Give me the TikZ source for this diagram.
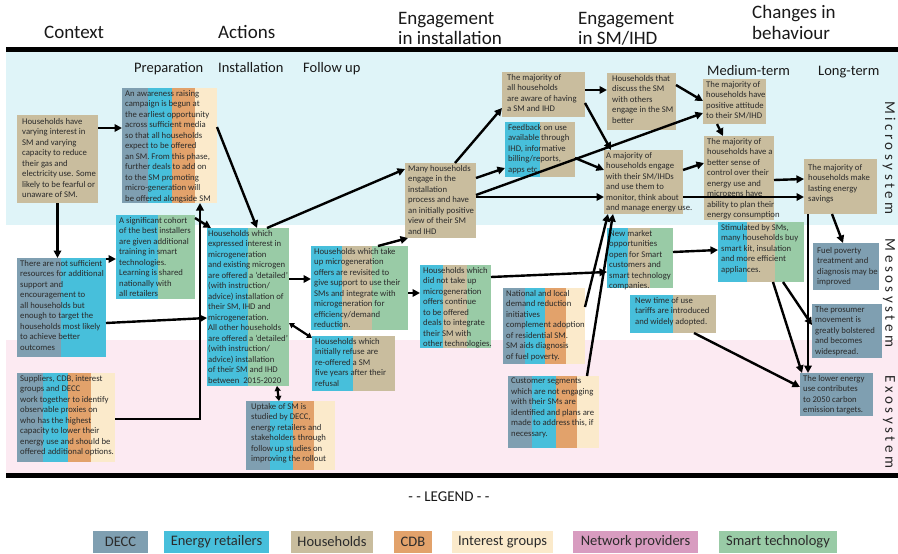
\documentclass[tikz,border=0pt]{standalone}
\usepackage{fontspec}
\setmainfont{Carlito}
\usetikzlibrary{arrows.meta}
\definecolor{cDECC}{HTML}{7F9FB1}
\definecolor{cER}{HTML}{47BFDB}
\definecolor{cHH}{HTML}{C9BD9E}
\definecolor{cCDB}{HTML}{E2A26B}
\definecolor{cIG}{HTML}{FBEACB}
\definecolor{cNP}{HTML}{D89CC0}
\definecolor{cST}{HTML}{99CBA6}
\definecolor{cMicro}{HTML}{DFF4F8}
\definecolor{cExo}{HTML}{FCEAF2}
\definecolor{cTxt}{HTML}{2B2B2B}
\newcommand\mkbox[6]{%
  \foreach \xa/\xb/\cc in {#6}{\fill[\cc] (\xa,#3) rectangle (\xb,#5);}%
  \node[inner sep=0pt,outer sep=0pt,minimum width={#4-#2},minimum height={#5-#3},anchor=north west] (#1) at (#2,#3) {};%
}
\newcommand\mktext[3][]{\node[btxt,anchor=north west,#1] (#2t) at ([xshift=3pt,yshift=-2pt]#2.north west) {#3};}
\newcommand\ls{\kern3.5pt}
\begin{document}
\begin{tikzpicture}[x=1pt,y=-1pt,
  arr/.style={line width=2.4pt,-{Triangle[length=7.5pt,width=7.5pt]},black},
  darr/.style={line width=2.2pt,{Triangle[length=5pt,width=6pt]}-{Triangle[length=5pt,width=6pt]},black},
  btxt/.style={inner sep=0pt,align=left,text=cTxt,font=\fontsize{8.7}{10.5}\selectfont},
  hdr/.style={font=\fontsize{19}{22}\selectfont,inner sep=0pt,anchor=base west,text=black!90},
  sub/.style={font=\fontsize{14.5}{17}\selectfont,inner sep=0pt,anchor=base west,text=black!90},
  leg/.style={font=\fontsize{14.5}{17}\selectfont,inner sep=0pt,minimum height=22pt,text=cTxt},
  sys/.style={font=\fontsize{15}{18}\selectfont,rotate=-90,inner sep=0pt,text=black!85}]
\useasboundingbox (0,0) rectangle (898,554);
\fill[white] (0,0) rectangle (898,554);
% bands
\fill[cMicro] (6,52) rectangle (898,225);
\fill[cExo] (6,340) rectangle (898,473);
\fill[black] (6,47) rectangle (898,52);
\fill[black] (6,473) rectangle (898,478);
% headers
\node[hdr] (hctx) at (44,38) {Context};
\node[hdr] (hact) at (218,38) {Actions};
\node[hdr] (heng1) at (398,24) {Engagement};
\node[hdr] (heng1b) at (398,44) {in installation};
\node[hdr] (heng2) at (578,24) {Engagement};
\node[hdr] (heng2b) at (578,44) {in SM/IHD};
\node[hdr] (hchg) at (752,19) {Changes in};
\node[hdr] (hchgb) at (752,39) {behaviour};
\node[sub] (sprep) at (134,72) {Preparation};
\node[sub] (sinst) at (218,72) {Installation};
\node[sub] (sfol) at (303,72) {Follow up};
\node[sub] (smed) at (707,75) {Medium-term};
\node[sub] (slong) at (818,75) {Long-term};
\node[sys] (micro) at (889,158) {M\ls i\ls c\ls r\ls o\ls s\ls y\ls s\ls t\ls e\ls m};
\node[sys] (meso) at (889,293) {M\ls e\ls s\ls o\ls s\ls y\ls s\ls t\ls e\ls m};
\node[sys] (exo) at (889,422) {E\ls x\ls o\ls s\ls y\ls s\ls t\ls e\ls m};
% boxes
\mkbox{ctx1}{17}{115}{98}{203}{17/98/cHH}
\mkbox{ctx2}{17}{258}{106}{357}{17/61/cDECC,61/106/cER}
\mkbox{ctx3}{17}{373}{115}{462}{17/43/cDECC,43/68/cER,68/91/cCDB,91/115/cIG}
\mkbox{prep1}{122}{88}{217}{203}{122/148/cDECC,148/172/cER,172/195/cCDB,195/217/cIG}
\mkbox{prep2}{116}{215}{195}{299}{116/158/cER,158/195/cST}
\mkbox{inst1}{207}{228}{289}{386}{207/248/cER,248/289/cST}
\mkbox{inst2}{246}{401}{335}{470}{246/270/cDECC,270/293/cER,293/314/cCDB,314/335/cIG}
\mkbox{fol1}{311}{246}{408}{330}{311/342/cER,342/372/cHH,372/408/cST}
\mkbox{fol2}{312}{336}{395}{391}{312/353/cER,353/395/cHH}
\mkbox{eng1}{405}{163}{476}{238}{405/476/cHH}
\mkbox{eng2}{420}{265}{491}{348}{420/443/cER,443/467/cHH,467/491/cST}
\mkbox{sm1}{502}{72}{585}{117}{502/585/cHH}
\mkbox{sm2}{505}{122}{575}{177}{505/540/cER,540/575/cHH}
\mkbox{sm3}{607}{73}{676}{130}{607/676/cHH}
\mkbox{sm4}{604}{150}{683}{214}{604/683/cHH}
\mkbox{sm5}{503}{288}{585}{364}{503/525/cDECC,525/545/cER,545/566/cCDB,566/585/cIG}
\mkbox{sm6}{508}{376}{599}{448}{508/532/cDECC,532/556/cER,556/577/cCDB,577/599/cIG}
\mkbox{sm7}{607}{228}{673}{288}{607/628/cER,628/650/cHH,650/673/cST}
\mkbox{med1}{703}{79}{766}{124}{703/766/cHH}
\mkbox{med2}{704}{136}{774}{220}{704/774/cHH}
\mkbox{med3}{718}{222}{804}{282}{718/747/cER,747/775/cHH,775/804/cST}
\mkbox{med4}{630}{295}{716}{333}{630/673/cER,673/716/cHH}
\mkbox{lt1}{804}{159}{877}{214}{804/877/cHH}
\mkbox{lt2}{813}{243}{879}{290}{813/879/cDECC}
\mkbox{lt3}{812}{304}{882}{358}{812/882/cDECC}
\mkbox{lt4}{800}{373}{873}{416}{800/873/cDECC}
% texts
\mktext[xshift=2pt,yshift=-1pt]{ctx1}{Households have\\varying interest in\\SM and varying\\capacity to reduce\\their gas and\\electricity use. Some\\likely to be fearful or\\unaware of SM.}
\mktext{ctx2}{There are not sufficient\\resources for additional\\support and\\encouragement to\\all households but\\enough to target the\\households most likely\\to achieve better\\outcomes}
\mktext{ctx3}{Suppliers, CDB, interest\\groups and DECC\\work together to identify\\observable proxies on\\who has the highest\\capacity to lower their\\energy use and should be\\offered additional options.}
\mktext{prep1}{An awareness raising\\campaign is begun at\\the earliest opportunity\\across sufficient media\\so that all households\\expect to be offered\\an SM. From this phase,\\further deals to add on\\to the SM promoting\\micro-generation will\\be offered alongside SM}
\mktext{prep2}{A significant cohort\\of the best installers\\are given additional\\training in smart\\technologies.\\Learning is shared\\nationally with\\all retailers}
\mktext[xshift=-2pt]{inst1}{Households which\\expressed interest in\\microgeneration\\and existing microgen\\are offered a `detailed'\\(with instruction/\\advice) installation of\\their SM, IHD and\\microgeneration.\\All other households\\are offered a `detailed'\\(with instruction/\\advice) installation\\of their SM and IHD\\between\ \ 2015-2020}
\mktext[xshift=2pt]{inst2}{Uptake of SM is\\studied by DECC,\\energy retailers and\\stakeholders through\\follow up studies on\\improving the rollout}
\mktext{fol1}{Households which take\\up microgeneration\\offers are revisited to\\give support to use their\\SMs and integrate with\\microgeneration for\\efficiency/demand\\reduction.}
\mktext{fol2}{Households which\\initially refuse are\\re-offered a SM\\five years after their\\refusal}
\mktext{eng1}{Many households\\engage in the\\installation\\process and have\\an initially positive\\view of their SM\\and IHD}
\mktext{eng2}{Households which\\did not take up\\microgeneration\\offers continue\\to be offered\\deals to integrate\\their SM with\\other technologies.}
\mktext[xshift=2pt]{sm1}{The majority of\\all households\\are aware of having\\a SM and IHD}
\mktext{sm2}{Feedback on use\\available through\\IHD, informative\\billing/reports,\\apps etc.}
\mktext[xshift=2pt]{sm3}{Households that\\discuss the SM\\with others\\engage in the SM\\better}
\mktext[xshift=-1pt]{sm4}{A majority of\\households engage\\with their SM/IHDs\\and use them to\\monitor, think about\\and manage energy use.}
\mktext{sm5}{National and local\\demand reduction\\initiatives\\complement adoption\\of residential SM.\\SM aids diagnosis\\of fuel poverty.}
\mktext{sm6}{Customer segments\\which are not engaging\\with their SMs are\\identified and plans are\\made to address this, if\\necessary.}
\mktext[xshift=-1pt]{sm7}{New market\\opportunities\\open for Smart\\customers and\\smart technology\\companies.}
\mktext{med1}{The majority of\\households have\\positive attitude\\to their SM/IHD}
\mktext{med2}{The majority of\\households have a\\better sense of\\control over their\\energy use and\\microgens have\\ability to plan their\\energy consumption}
\mktext{med3}{Stimulated by SMs,\\many households buy\\smart kit, insulation\\and more efficient\\appliances.}
\mktext[xshift=2pt]{med4}{New time of use\\tariffs are introduced\\and widely adopted.}
\mktext[xshift=1pt,yshift=-3pt]{lt1}{The majority of\\households make\\lasting energy\\savings}
\mktext[xshift=1pt,yshift=-2pt]{lt2}{Fuel poverty\\treatment and\\diagnosis may be\\improved}
\mktext{lt3}{The prosumer\\movement is\\greatly bolstered\\and becomes\\widespread.}
\mktext{lt4}{The lower energy\\use contributes\\to 2050 carbon\\emission targets.}
% connectors
\draw[arr] ([yshift=-13pt]ctx1.north east) -- ([yshift=-40pt]prep1.north west);
\draw[arr] (ctx1.south) -- (ctx1.south |- ctx2.north);
\draw[arr] ([yshift=-1pt]ctx2.north east) -- ([yshift=-44pt]prep2.north west);
\draw[arr] ([yshift=-65pt]ctx2.north east) -- ([yshift=-90pt]inst1.north west);
\draw[arr] ([yshift=-46pt]ctx3.north east) -| ([xshift=-17pt]prep1.south east);
\draw[arr] ([yshift=-3pt]prep2.north east) -- ([xshift=4pt]inst1.north west);
\draw[arr] ([yshift=-39pt]prep1.north east) -- ([xshift=50pt]inst1.north west);
\draw[arr] ([xshift=-22pt]inst1.north east) -- ([yshift=-6pt]eng1.north west);
\draw[arr] ([yshift=-51pt]inst1.north east) -- ([yshift=-33pt]fol1.north west);
\draw[darr] ([yshift=-95pt]inst1.north east) -- ([yshift=-2pt]fol2.north west);
\draw[darr] ([xshift=-12pt]inst1.south east) -- ([xshift=33pt]inst2.north west);
\draw[arr] ([xshift=-30pt]fol1.north east) -- ([xshift=3pt]eng1.south west);
\draw[arr] ([yshift=-47pt]fol1.north east) -- ([yshift=-28pt]eng2.north west);
\draw[arr] ([xshift=50pt]eng1.north west) -- ([yshift=-36pt]sm1.north west);
\draw[arr] ([yshift=-15pt]eng1.north east) -- ([yshift=-46pt]sm2.north west);
\draw[arr] ([yshift=-32pt]eng1.north east) -- ([yshift=-34pt]med1.north west);
\draw[arr] ([yshift=-34pt]eng1.north east) -- ([yshift=-47pt]sm4.north west);
\draw[arr] ([yshift=-36pt]sm2.north east) -- ([yshift=-20pt]sm4.north west);
\draw[arr] ([yshift=-18pt]sm1.north east) -- ([yshift=-17pt]sm3.north west);
\draw[arr] ([yshift=-31pt]sm1.north east) -- ([xshift=7pt]sm4.north west);
\draw[arr] ([yshift=-12pt]sm3.north east) -- ([yshift=-22pt]med1.north west);
\draw[arr] ([xshift=14pt]med1.south west) -- ([xshift=19pt]med2.north west);
\draw[arr] ([yshift=-20pt]sm4.north east) -- ([yshift=-27pt]med2.north west);
\draw[arr] ([yshift=-47pt]sm4.north east) -- ([yshift=-38pt]lt1.north west);
\draw[arr] ([yshift=-44pt]med2.north east) -- ([yshift=-20pt]lt1.north west);
\draw[arr] ([xshift=28pt]lt1.south west) -- ([xshift=30pt]lt2.north west);
\draw[arr] ([xshift=4pt]lt1.south west) -- ([xshift=8pt]lt4.north west);
\draw[arr] ([xshift=55pt]med3.south west) -- ([xshift=2pt]lt4.north west);
\draw[arr] ([xshift=65pt]med3.south west) -- ([yshift=-21pt]lt3.north west);
\draw[arr] ([xshift=-22pt]med4.south east) -- ([yshift=-14pt]lt4.north west);
\draw[arr] ([yshift=-24pt]sm7.north east) -- ([yshift=-28pt]med3.north west);
\draw[arr] ([yshift=-12pt]eng2.north east) -- ([yshift=-44pt]sm7.north west);
\draw[arr] ([yshift=-19pt]sm5.north east) -- ([xshift=4pt]sm4.south west);
\draw[arr] ([xshift=-12pt]sm6.north east) -- ([xshift=9pt]sm4.south west);
% legend
\node[font=\fontsize{15}{18}\selectfont,text=black!90] (legt) at (449,497) {- - LEGEND - -};
\node[leg,fill=cDECC,minimum width=55pt] (lg1) at (120.5,542) {DECC};
\node[leg,fill=cER,minimum width=105pt] (lg2) at (216.5,542) {Energy retailers};
\node[leg,fill=cHH,minimum width=82pt] (lg3) at (332,542) {Households};
\node[leg,fill=cCDB,minimum width=38pt] (lg4) at (413,542) {CDB};
\node[leg,fill=cIG,minimum width=101pt] (lg5) at (502.5,542) {Interest groups};
\node[leg,fill=cNP,minimum width=125pt] (lg6) at (635.5,542) {Network providers};
\node[leg,fill=cST,minimum width=118pt] (lg7) at (778,542) {Smart technology};
\end{tikzpicture}
\end{document}
